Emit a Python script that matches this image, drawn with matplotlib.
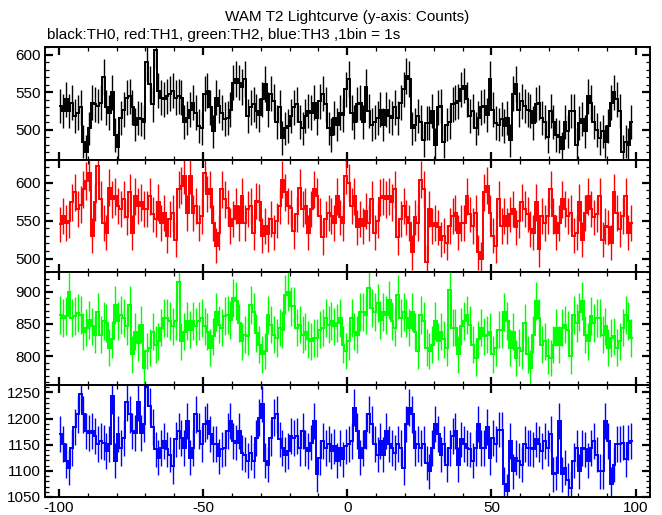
import numpy as np
import matplotlib
matplotlib.use("Agg")
import matplotlib.pyplot as plt
from matplotlib.ticker import MultipleLocator

# counts per 1 s bin, bins from -100 s to 99 s
th0 = [532, 525, 541, 525, 536, 518, 523, 530, 484, 471, 502, 536, 534, 532, 536, 570, 530, 523, 550, 493,
       477, 516, 527, 543, 545, 530, 507, 516, 514, 511, 590, 561, 534, 606, 552, 543, 541, 545, 548, 552,
       543, 545, 543, 511, 516, 527, 536, 523, 505, 502, 548, 552, 530, 498, 543, 532, 523, 514, 516, 527,
       563, 568, 563, 557, 568, 518, 530, 534, 525, 520, 541, 561, 527, 548, 538, 511, 530, 489, 502, 505,
       518, 530, 534, 511, 502, 518, 525, 523, 536, 516, 538, 548, 534, 502, 493, 516, 507, 523, 520, 554,
       568, 523, 511, 534, 536, 511, 557, 525, 507, 511, 516, 527, 507, 527, 518, 516, 530, 516, 536, 554,
       572, 568, 502, 507, 518, 511, 486, 509, 509, 525, 480, 530, 532, 484, 507, 511, 534, 536, 538, 554,
       559, 541, 518, 525, 502, 516, 530, 532, 520, 568, 527, 509, 507, 514, 505, 516, 486, 548, 561, 527,
       538, 532, 527, 525, 509, 534, 536, 516, 511, 491, 525, 511, 493, 491, 475, 511, 498, 525, 525, 480,
       509, 514, 498, 545, 536, 511, 500, 489, 498, 484, 505, 536, 550, 541, 525, 471, 484, 480, 511]
th1 = [545, 556, 547, 550, 574, 587, 565, 571, 591, 602, 613, 530, 574, 622, 578, 547, 534, 593, 578, 582,
       569, 565, 578, 554, 587, 534, 582, 569, 574, 565, 565, 582, 558, 552, 574, 547, 560, 530, 552, 560,
       525, 591, 596, 609, 560, 609, 560, 569, 547, 556, 613, 585, 591, 547, 517, 534, 591, 578, 567, 543,
       552, 569, 547, 582, 547, 565, 569, 534, 576, 574, 530, 543, 532, 552, 534, 550, 569, 604, 587, 569,
       567, 536, 558, 593, 565, 569, 534, 565, 591, 582, 556, 528, 552, 560, 556, 547, 582, 554, 547, 609,
       600, 569, 582, 541, 552, 543, 563, 547, 578, 534, 550, 580, 582, 578, 582, 574, 591, 528, 552, 569,
       554, 547, 508, 554, 547, 604, 591, 495, 565, 543, 547, 541, 525, 530, 521, 543, 556, 560, 534, 547,
       547, 582, 558, 543, 560, 508, 499, 587, 596, 560, 530, 517, 578, 543, 556, 543, 558, 565, 541, 550,
       574, 565, 558, 539, 534, 574, 512, 556, 547, 556, 591, 556, 534, 547, 578, 565, 556, 560, 530, 534,
       574, 525, 560, 582, 565, 554, 558, 582, 525, 543, 541, 521, 587, 560, 539, 556, 582, 534, 547]
th2 = [864, 859, 862, 900, 859, 862, 867, 864, 838, 844, 856, 846, 833, 869, 833, 854, 851, 813, 826, 879,
       854, 864, 859, 846, 879, 803, 838, 821, 849, 782, 808, 813, 838, 818, 823, 844, 859, 859, 854, 846,
       854, 915, 823, 838, 854, 841, 854, 846, 854, 859, 846, 838, 813, 831, 869, 849, 844, 862, 864, 856,
       890, 885, 851, 823, 833, 831, 879, 869, 836, 818, 803, 808, 864, 849, 833, 828, 844, 841, 895, 900,
       877, 877, 844, 849, 833, 838, 826, 823, 828, 828, 841, 844, 859, 849, 854, 846, 851, 859, 818, 808,
       823, 859, 838, 833, 869, 869, 864, 905, 874, 869, 882, 856, 869, 864, 887, 854, 844, 895, 859, 869,
       859, 844, 869, 838, 808, 864, 854, 813, 808, 818, 854, 823, 838, 826, 813, 903, 844, 844, 803, 846,
       854, 864, 849, 818, 797, 826, 844, 831, 833, 838, 803, 813, 841, 841, 869, 854, 813, 838, 797, 813,
       808, 851, 803, 782, 833, 885, 859, 818, 823, 800, 797, 818, 844, 818, 844, 849, 841, 800, 864, 851,
       869, 885, 833, 823, 862, 851, 859, 859, 833, 846, 813, 828, 831, 813, 823, 844, 864, 854, 828]
th3 = [1170, 1151, 1119, 1106, 1144, 1183, 1208, 1247, 1208, 1176, 1173, 1176, 1167, 1151, 1157, 1154, 1138, 1151, 1244, 1119,
       1170, 1144, 1163, 1231, 1208, 1176, 1173, 1231, 1173, 1189, 1260, 1224, 1183, 1141, 1125, 1144, 1157, 1141, 1131, 1109,
       1160, 1176, 1163, 1144, 1196, 1125, 1144, 1208, 1176, 1151, 1189, 1196, 1170, 1151, 1151, 1128, 1141, 1144, 1176, 1196,
       1157, 1154, 1176, 1135, 1131, 1119, 1135, 1119, 1163, 1202, 1228, 1119, 1112, 1163, 1202, 1208, 1160, 1144, 1131, 1138,
       1167, 1163, 1167, 1144, 1176, 1144, 1138, 1154, 1196, 1093, 1125, 1157, 1144, 1151, 1138, 1147, 1119, 1144, 1122, 1147,
       1151, 1157, 1221, 1176, 1125, 1144, 1176, 1208, 1189, 1151, 1131, 1157, 1131, 1176, 1151, 1144, 1135, 1151, 1144, 1106,
       1189, 1221, 1208, 1144, 1151, 1144, 1151, 1115, 1099, 1144, 1189, 1170, 1131, 1151, 1112, 1144, 1167, 1176, 1112, 1160,
       1151, 1144, 1141, 1119, 1144, 1189, 1144, 1144, 1183, 1125, 1163, 1151, 1179, 1179, 1074, 1061, 1157, 1099, 1125, 1119,
       1112, 1151, 1144, 1144, 1141, 1160, 1151, 1138, 1157, 1144, 1170, 1093, 1096, 1196, 1093, 1106, 1083, 1067, 1119, 1144,
       1099, 1144, 1141, 1119, 1144, 1157, 1131, 1099, 1099, 1196, 1157, 1074, 1112, 1151, 1151, 1154, 1122, 1154, 1157]

series = [th0, th1, th2, th3]
colors = ["black", "#ff0000", "#00ff00", "#0000ff"]
ylims = [(460, 610), (482, 630), (756, 930), (1050, 1265)]
yticks = [[500, 550, 600], [500, 550, 600], [800, 850, 900], [1050, 1100, 1150, 1200, 1250]]

t0 = -100
plt.rcParams["font.family"] = ["Liberation Sans", "DejaVu Sans"]
plt.rcParams["axes.unicode_minus"] = False

fig, axes = plt.subplots(4, 1, figsize=(6.62, 5.15), dpi=100, sharex=True)
fig.subplots_adjust(left=0.0685, right=0.982, top=0.908, bottom=0.035, hspace=0)

for ax, y, c, yl, yt in zip(axes, series, colors, ylims, yticks):
    y = np.array(y, float)
    edges = t0 + np.arange(len(y) + 1)
    ctr = edges[:-1] + 0.5
    ax.stairs(y, edges, color=c, lw=1.4, baseline=None)
    ax.vlines(ctr, y - np.sqrt(y), y + np.sqrt(y), color=c, lw=1.0)
    ax.set_ylim(*yl)
    ax.set_yticks(yt)
    ax.yaxis.set_minor_locator(MultipleLocator(10))
    ax.xaxis.set_major_locator(MultipleLocator(50))
    ax.xaxis.set_minor_locator(MultipleLocator(10))
    ax.tick_params(which="both", direction="in", top=True, right=True, labelsize=11,
                   colors="black", pad=3)
    ax.tick_params(which="major", length=6, width=1.6)
    ax.tick_params(which="minor", length=3, width=0.9)
    for s in ax.spines.values():
        s.set_linewidth(1.4)

axes[-1].set_xlim(-104.7, 105)

fig.text(0.525, 0.967, "WAM T2 Lightcurve (y-axis: Counts)", ha="center", va="center", fontsize=11)
fig.text(0.071, 0.932, "black:TH0, red:TH1, green:TH2, blue:TH3 ,1bin = 1s", ha="left", va="center",
         fontsize=11)

fig.savefig("out.png", dpi=100)
